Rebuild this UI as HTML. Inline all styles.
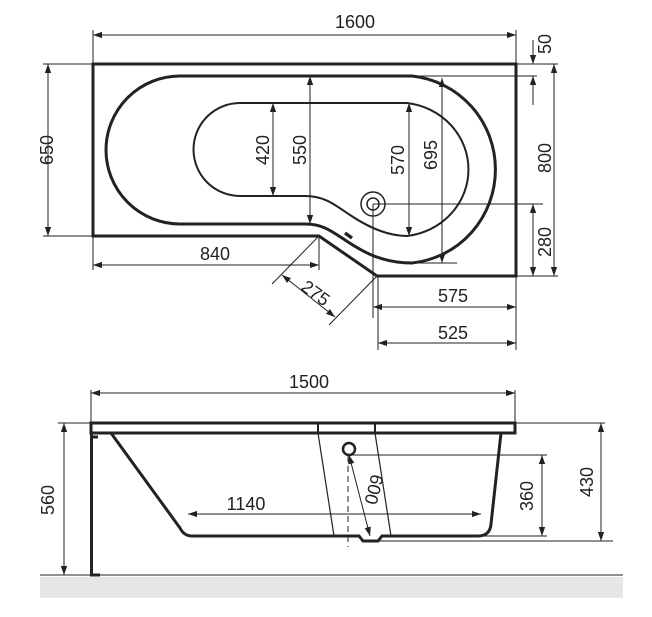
<!DOCTYPE html>
<html><head><meta charset="utf-8"><style>html,body{margin:0;padding:0;background:#fff}svg{display:block}text{font-family:"Liberation Sans",sans-serif;font-size:18px;fill:#222}</style></head><body>
<svg width="652" height="617" viewBox="0 0 652 617" xmlns="http://www.w3.org/2000/svg">
<defs>
<marker id="a" viewBox="0 0 10 10" refX="10" refY="5" markerWidth="9" markerHeight="9" orient="auto-start-reverse" markerUnits="userSpaceOnUse"><path d="M0,1.5 L10,5 L0,8.5 z" fill="#222"/></marker>
</defs>
<g fill="none" stroke="#222">
<path d="M93,64 H516 V276 H377 L319,236 H93 Z" stroke-width="3"/>
<path d="M180,76 H412 A93,94 0 0 1 412,263 C380,263 360,250 345,240 C330,230 322,224 305,224 H180 A74,74 0 0 1 180,76 Z" stroke-width="3"/>
<path d="M240,103 H407 A70,67 0 0 1 407,236 C385,236 365,225 350,215 C335,205 325,196 305,196 H240 A46.5,46.5 0 0 1 240,103 Z" stroke-width="2"/>
<circle cx="373" cy="204" r="12" stroke-width="1.5"/><circle cx="373" cy="204" r="6" stroke-width="1.5"/>
<path d="M345,233 L352,238" stroke-width="3.5"/>
<g stroke-width="1">
<path d="M93,30 V64 M516,30 V64"/>
<path d="M93,35 H516" marker-start="url(#a)" marker-end="url(#a)"/>
<path d="M516,64 H558 M412,76 H537 M373,204 H543 M516,276 H558"/>
<path d="M533,40 V64" marker-end="url(#a)"/>
<path d="M533,105 V76" marker-end="url(#a)"/>
<path d="M554,64 V276" marker-start="url(#a)" marker-end="url(#a)"/>
<path d="M533,204 V276" marker-start="url(#a)" marker-end="url(#a)"/>
<path d="M273,103 V196" marker-start="url(#a)" marker-end="url(#a)"/>
<path d="M310,76 V224" marker-start="url(#a)" marker-end="url(#a)"/>
<path d="M409,103 V236" marker-start="url(#a)" marker-end="url(#a)"/>
<path d="M442,78 V263" marker-start="url(#a)" marker-end="url(#a)"/>
<path d="M412,263 H457"/>
<path d="M93,236 V270 M319,236 V270"/>
<path d="M93,265 H319" marker-start="url(#a)" marker-end="url(#a)"/>
<path d="M319,236 L272,284 M377,276 L329,325"/>
<path d="M282,275 L335,317" marker-start="url(#a)" marker-end="url(#a)"/>
<path d="M373,204 V318 M378,276 V350 M516,276 V350"/>
<path d="M373,307 H516" marker-start="url(#a)" marker-end="url(#a)"/>
<path d="M378,343 H516" marker-start="url(#a)" marker-end="url(#a)"/>
</g>
<rect x="91" y="423" width="424" height="10" stroke-width="3"/>
<path d="M318,423 V433 M375,423 V433" stroke-width="2"/>
<path d="M91.5,433 V575 H100 M91,437 H98" stroke-width="3"/>
<path d="M111,433 L180,528 Q184,536 192,536 H359 L363,541 H378 L382,536 H478 Q490,536 491,524 L501,433" stroke-width="3"/>
<path d="M318,433 L334,536 M375,433 L391,536" stroke-width="1.2"/>
<circle cx="349" cy="449" r="6" stroke-width="2.5"/>
<path d="M348,456 V547" stroke-width="1" stroke-dasharray="6,4"/>
<g stroke-width="1">
<path d="M349,455 L370,536" marker-start="url(#a)" marker-end="url(#a)"/>
<path d="M349,455 H547 M480,536 H547 M367,541 H613"/>
<path d="M542,455 V536" marker-start="url(#a)" marker-end="url(#a)"/>
<path d="M515,423 H605"/>
<path d="M601,423 V541" marker-start="url(#a)" marker-end="url(#a)"/>
<path d="M58,423 H91"/>
<path d="M64,423 V575" marker-start="url(#a)" marker-end="url(#a)"/>
<path d="M188,514 H481" marker-start="url(#a)" marker-end="url(#a)"/>
<path d="M91,390 V423 M515,390 V423"/>
<path d="M91,393 H515" marker-start="url(#a)" marker-end="url(#a)"/>
<path d="M40,575 H623"/>
</g>
</g>
<rect x="40" y="577" width="583" height="21" fill="#e6e6e6"/>
<g text-anchor="middle">
<text x="355" y="28">1600</text>
<text x="215" y="260">840</text>
<text x="453" y="302">575</text>
<text x="453" y="339">525</text>
<text transform="translate(312,298) rotate(36)">275</text>
<text transform="translate(551,44) rotate(-90)">50</text>
<text transform="translate(551,158) rotate(-90)">800</text>
<text transform="translate(551,242) rotate(-90)">280</text>
<text transform="translate(269,150) rotate(-90)">420</text>
<text transform="translate(306,150) rotate(-90)">550</text>
<text transform="translate(404,160) rotate(-90)">570</text>
<text transform="translate(437,155) rotate(-90)">695</text>
<text transform="translate(53,150) rotate(-90)">650</text>
<text x="309" y="388">1500</text>
<text x="246" y="510">1140</text>
<text transform="translate(54,500) rotate(-90)">560</text>
<text transform="translate(533,496) rotate(-90)">360</text>
<text transform="translate(593,482) rotate(-90)">430</text>
<text transform="translate(368,488) rotate(104)">600</text>
</g>
<path d="M43,64 H93 M43,236 H93" stroke="#222" stroke-width="1"/>
<path d="M48,64 V236" stroke="#222" stroke-width="1" marker-start="url(#a)" marker-end="url(#a)"/>
</svg>
</body></html>
